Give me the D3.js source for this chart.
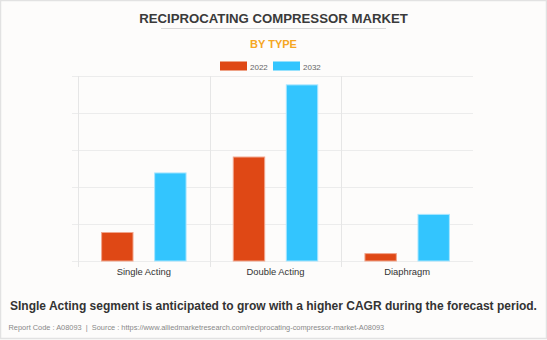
<!DOCTYPE html>
<html>
<head>
<meta charset="utf-8">
<script src="https://cdn.jsdelivr.net/npm/d3@7"></script>
<style>
  html, body { margin: 0; padding: 0; background: #fdfcfb; }
  svg { display: block; }
</style>
</head>
<body>
<script>
const categories = ["Single Acting", "Double Acting", "Diaphragm"];
const seriesNames = ["2022", "2032"];
const values2022 = [0.77, 2.81, 0.2];
const values2032 = [2.38, 4.76, 1.26];
const yTicks = [0, 1, 2, 3, 4, 5];
const colors = ["#df4815", "#33c5fe"];
const title = "RECIPROCATING COMPRESSOR MARKET";
const subtitle = "BY TYPE";
const note = "SIngle Acting segment is anticipated to grow with a higher CAGR during the forecast period.";
const footer = "Report Code : A08093  |  Source : https://www.alliedmarketresearch.com/reciprocating-compressor-market-A08093";

(function () {
const W = 547, H = 340;
const svg = d3.select("body").append("svg").attr("width", W).attr("height", H);

svg.append("rect").attr("x", 0.5).attr("y", 0.5).attr("width", W - 1).attr("height", H - 2)
  .attr("fill", "#fdfcfb").attr("stroke", "#e2e2e2").attr("stroke-width", 1.5);

svg.append("text").attr("x", 273.5).attr("y", 22.5).attr("text-anchor", "middle")
  .attr("font-family", "Liberation Sans, Arial, sans-serif").attr("font-weight", "bold")
  .attr("font-size", 13.2).attr("fill", "#3a3a3a").text(title);
svg.append("line").attr("x1", 161).attr("x2", 386).attr("y1", 28.5).attr("y2", 28.5)
  .attr("stroke", "#d9d9d9").attr("stroke-width", 1);
svg.append("text").attr("x", 273.5).attr("y", 48).attr("text-anchor", "middle")
  .attr("font-family", "Liberation Sans, Arial, sans-serif").attr("font-weight", "bold")
  .attr("font-size", 11).attr("fill", "#f5a623").text(subtitle);

const legendX = [220, 273];
seriesNames.forEach((s, i) => {
  svg.append("rect").attr("x", legendX[i]).attr("y", 61.5).attr("width", 27).attr("height", 9)
    .attr("fill", colors[i]);
  svg.append("text").attr("x", legendX[i] + 30).attr("y", 69.5)
    .attr("font-family", "Liberation Sans, Arial, sans-serif").attr("font-size", 8)
    .attr("fill", "#666").text(s);
});

const pLeft = 78, pRight = 473, pTop = 76, pBottom = 261;
const x0 = d3.scaleBand().domain(categories).range([pLeft, pRight]).padding(0);
const x1 = d3.scaleBand().domain(seriesNames).range([0, x0.bandwidth()])
  .paddingInner(0.408).paddingOuter(0.445);
const y = d3.scaleLinear().domain([0, 5]).range([pBottom, pTop]);

const g = svg.append("g");
g.selectAll("line.grid").data(yTicks).join("line").attr("class", "grid")
  .attr("x1", pLeft - 6).attr("x2", pRight)
  .attr("y1", d => Math.round(y(d)) + 0.5).attr("y2", d => Math.round(y(d)) + 0.5)
  .attr("stroke", "#ececec").attr("stroke-width", 1);

const seps = [pLeft, ...categories.map(c => x0(c) + x0.bandwidth()).slice(0, 2)];
g.selectAll("line.sep").data(seps).join("line").attr("class", "sep")
  .attr("x1", d => Math.round(d) + 0.5).attr("x2", d => Math.round(d) + 0.5)
  .attr("y1", pTop).attr("y2", pBottom + 6)
  .attr("stroke", "#e6e6e6").attr("stroke-width", 1);

const data = categories.map((c, i) => ({ cat: c, vals: [values2022[i], values2032[i]] }));
const groups = g.selectAll("g.cat").data(data).join("g").attr("class", "cat")
  .attr("transform", d => `translate(${x0(d.cat)},0)`);
groups.selectAll("rect").data(d => d.vals.map((v, i) => ({ key: seriesNames[i], v, i })))
  .join("rect")
  .attr("x", d => x1(d.key)).attr("width", x1.bandwidth())
  .attr("y", d => y(d.v)).attr("height", d => y(0) - y(d.v))
  .attr("fill", d => colors[d.i])
  .attr("stroke", d => d.i === 0 ? "#f1a58c" : "#a8e6ff").attr("stroke-width", 1);

g.selectAll("text.cat").data(categories).join("text").attr("class", "cat")
  .attr("x", d => x0(d) + x0.bandwidth() / 2).attr("y", 274.5).attr("text-anchor", "middle")
  .attr("font-family", "Liberation Sans, Arial, sans-serif").attr("font-size", 9.4)
  .attr("fill", "#333").text(d => d);

svg.append("text").attr("x", 273.5).attr("y", 310).attr("text-anchor", "middle")
  .attr("font-family", "Liberation Sans, Arial, sans-serif").attr("font-weight", "bold")
  .attr("font-size", 12).attr("fill", "#333").text(note);

svg.append("text").attr("x", 8.5).attr("y", 329.5)
  .attr("font-family", "Liberation Sans, Arial, sans-serif").attr("font-size", 7.4)
  .attr("fill", "#888").style("white-space", "pre").text(footer);
})();
</script>
</body>
</html>
